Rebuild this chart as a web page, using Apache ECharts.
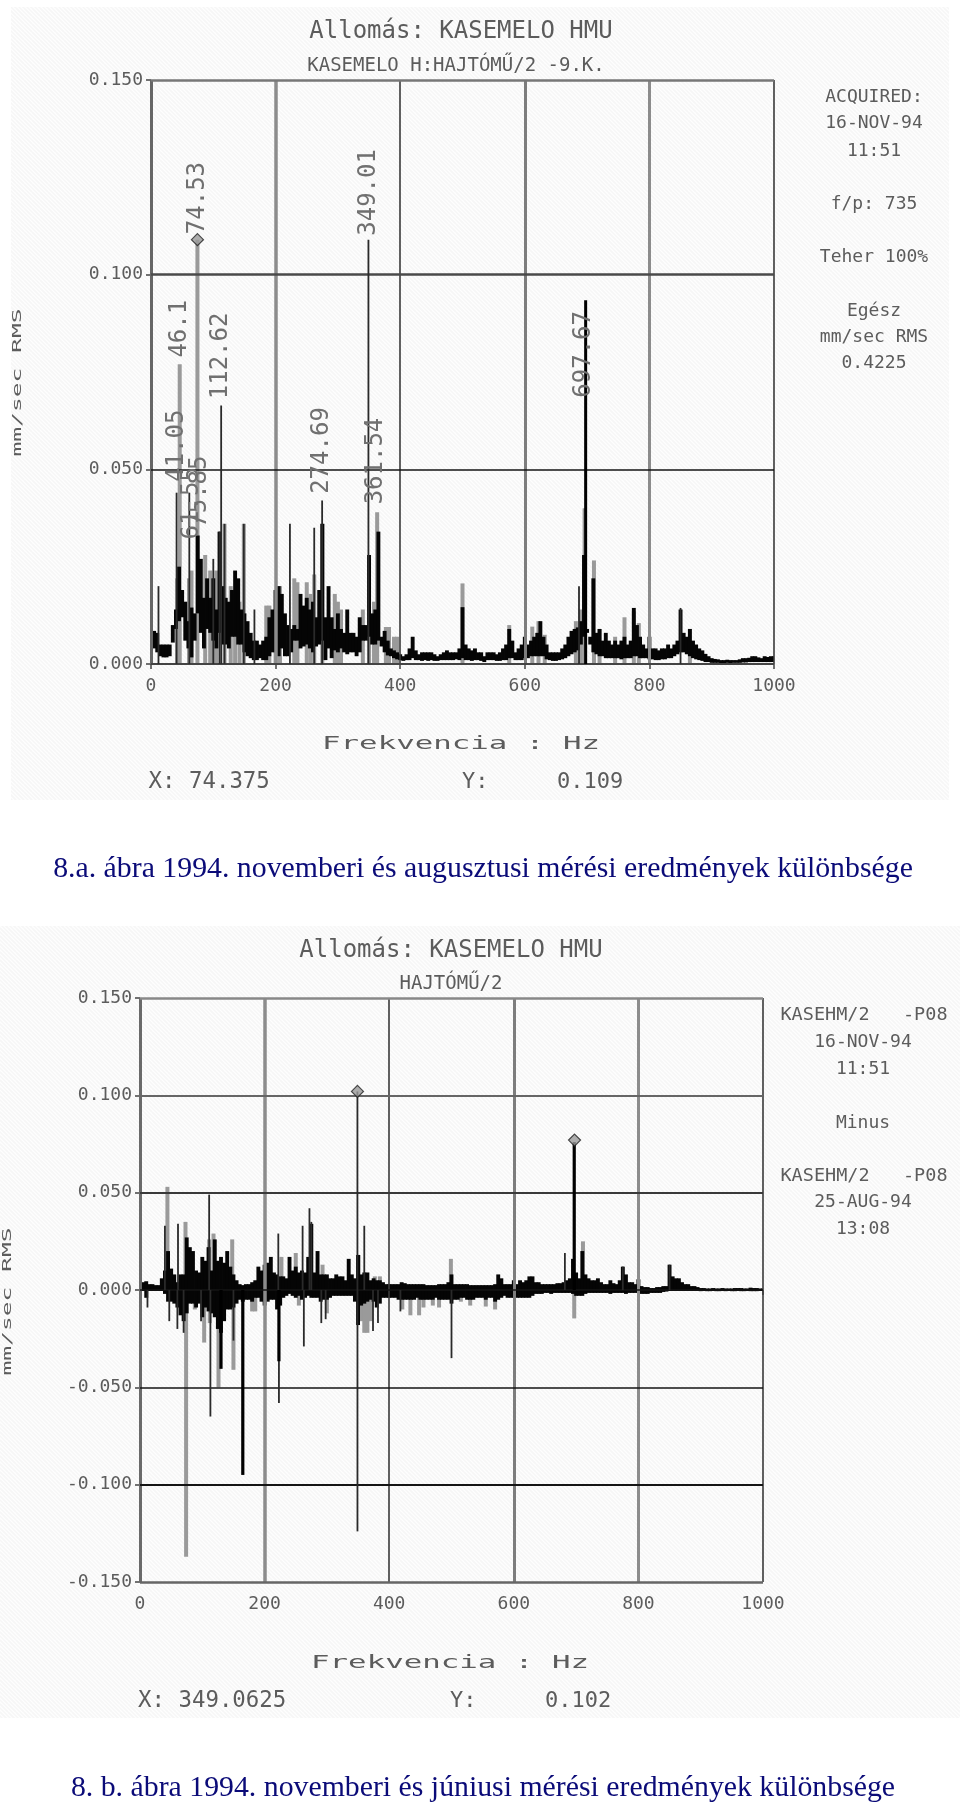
<!DOCTYPE html>
<html><head><meta charset="utf-8">
<style>html,body{margin:0;padding:0;background:#fff}#c{width:960px;height:1806px}</style>
<script src="https://cdn.jsdelivr.net/npm/echarts@6/dist/echarts.min.js"></script>
</head><body><div id="c"></div>
<script>
// Values in thousandths of mm/sec, read per 5 Hz bin (0..1000 Hz)
const aHigh=[6,8.5,8,5,5,5,5,10,14,25, 19,16,11,14.5,13,33,27,17,22,17, 22,14,34,20,17,16,19,24,22,14, 13,11,8,6,6,5,6,7,12,14,
19,20,18,13,10,9,10,9,18,15, 17,14,16,12,19,36,12,20,12,9, 13,9,8,14,8,8,7,12,10,10, 28,13,14,34,7,8.5,6,4,3.5,3,
2.5,2,2.5,4,7,3.5,2.5,3,3,3, 3,2.5,2,2.5,3,3.5,3,3,3,4, 14.6,5,4,3.5,4,3,3,2,3,3, 3,2.5,3,4,5,9,6,3,4,5,
7,5,6,7,8,11,7,5,3,3, 3,3,4,5,7,8.5,9,9.4,11,28, 9,7,22,8,9,6,8,6,5,6, 5,6,7,5,6,14.4,10,7,5,4,
7,4,4,3.5,4,4,5,4,5,6, 14,8,7,9,6,5,4,3.5,2.6,2, 1.5,1.3,1.2,1,1,1.1,1,1,1,1.2, 1.5,1.5,1.6,2,2,1.7,1.5,2,1.8,2, 2];
const aLow=[1,4,3,2,1.7,1.7,2,5.5,9,11, 12,6,4,1.7,6,13,8,4,9,8, 6,4,8,5,5,4,7,7,5,5, 3,2,1.5,1,1,1.5,1,1,2,3,
3,2,4,2,2,3,6,6,4,4.5, 5,4,3,4.5,5,6,1,4,1.5,3.5, 3,4,3,2.5,3,3,2,3,6,6, 7,5,5,6,4.5,3,2.2,2,1.5,1.2,
1,.8,1,1,1.5,1,1,.8,1,.8, 1,.8,.8,1,1,1,1,1,1.2,1, 1.5,1,1,.8,1,1,.8,.5,1,1, 1,.8,.8,1,1,1.5,1.5,1,1,1,
1.5,1.5,2,2,2,2,2,1.2,1,.8, .8,1,1.2,1.5,2,2.5,3,3.5,5,7, 8,5,3,2.5,2,2,1.5,1.5,1.5,1.5, 1.5,1.2,1.5,1.5,1.5,2,2,1.5,1.5,1.5,
1.2,1.2,1,1,1.2,1.2,1.5,1.5,2,2.5, 3,3,2.5,2,1.5,1.2,1,.8,.5,.5, .3,.3,.3,.2,.2,.3,.2,.3,.3,.3, .4,.4,.5,.5,.5,.5,.5,.5,.5,.5, .5];
const aGrayFreq=[46.1,74.53,42,61,65,87,95,100,105,118,128,135,142,149,185,190,200,207,230,235,250,256,262,275,295,300,305,340,350,358,363,377,382,390,395,500,575,612,622,632,682,690,696,711,720,745,760,775,783,865];
const aGrayVal=[77,109,22,22,24,28,24,22,24,36,20,18,16,36,15,15,19,20,22,21,21,18,23,36,18,16,14,14,28,16,39,9.5,9.5,7,7,20.7,10,9.6,11,7.5,11,14,40,26.6,9,7,12,13.5,10.5,9];
const aDarkFreq=[12,41.05,61.5,100,110,112.62,118,149,166,223,262,274.69,349.01,687,850];
const aDarkVal=[20,44,44,27,34,66.4,36,36,14,36,35,42,109,20,14.4];
const aThickFreq=[697.67];
const aThickVal=[93.4];
const aLabelText=["74.53","349.01","46.1","112.62","274.69","361.54","41.05","61.55","75.85","697.67"];
const aLabelFreq=[74.53,349.01,46.1,112.62,274.69,361.54,41.05,65,79,695];
const aLabelVal=[110.4,110,78.7,68,43.7,41,46.8,32,35,68.4];
const aMarkFreq=[74.53];
const aMarkVal=[109];

const bHigh=[3,4,4.5,3,3,2.5,2.5,6,10,20, 11,8,4,8,8,27,22,20,10,9, 17,15,22,10,26,15,17,14,20,12, 8,5,3,2.5,3,3,4,5,12,10,
13,14,17,9,8,7,7,6,17,10, 12,9,10,9,17,34,9,20,8,8, 8,6,6,8,7,7,5,16,8,6, 18,8,9,9,5,6,5,5,4,3,
3,3,3,3,4,3.5,3,3,3,3, 3,3,2.5,2.5,2.5,2.5,3,3,3,4, 8,3,3,3,3,3,2.5,2.5,2.5,2.5, 2.5,2.5,2.5,2.5,3,8,6,3,3,3,
5,3,5,4,5,7,7,4,4,3, 3,3,3,3,3.5,3.5,4,5,6,16, 9,6,20,8,6,5,5,6,4,3, 3,5,3.5,3,5,12,8,4,4,3,
5.5,2,1.5,1.5,1,1,1.5,1.5,2,2, 13,7,6,6,4,3,3,2,2,1.5, 1,1,.8,.8,1,.8,.8,1,.8,.8, .8,1,1,1,.8,.8,1.2,1,1,.8, .8];
const bLow=[0,-.5,-4,-.5,-.5,-.5,-.5,-.5,-2,-6, -6,-7,-9,-13,-16,-12,-7,-7,-9,-7, -14,-9,-11,-12,-14,-20,-22,-16,-10,-10, -9,-7,-5,-6,-5,-5,-6,-4,-4,-6,
-8,-6,-5,-5,-10,-8,-4,-3,-2,-3, -4,-3,-5,-4,-3,-4,-4,-4,-6,-5, -5,-4,-3,-3,-3,-3,-3,-3,-3,-6, -18,-8,-7,-6,-5,-6,-9,-7,-4,-4,
-4,-4,-4,-5,-5,-5,-5,-5,-5,-4, -5,-5,-5,-5,-5,-4,-5,-5,-5,-5, -7,-5,-5,-4,-4,-5,-5,-5,-4,-4, -4,-5,-4,-4,-6,-5,-4,-3,-4,-4,
-4,-4,-4,-4,-4,-4,-3,-2,-2,-2, -1.5,-1.5,-2,-1.5,-1.5,-1.5,-1.5,-1.5,-1.5,-2, -3,-3,-3,-2,-1.5,-1.5,-1.5,-1.5,-1.5,-1.5, -1.5,-2,-1.5,-1.5,-1.5,-1.5,-2,-1.5,-1.5,-1.5,
-1.5,-2,-2,-2,-1.5,-1.5,-1.5,-1.5,-1,-.8, -.5,-.5,-.5,-.5,-.5,-.5,-.5,-.5,-.5,-.5, -.6,-.5,-.6,-.6,-.5,-.6,-.6,-.5,-.6,-.5, -.6,-.6,-.5,-.6,-.6,-.5,-.6,-.6,-.6,-.5, -.5];
const bGrayFreq=[44,73,74,88,103,112,126,150,111,118,148,180,185,227,250,255,293,300,351,356,360,365,370,377,385,421,434,448,455,470,480,499,515,530,555,570,697,711];
const bGrayVal=[53,35,-137,-10,-27,-17,-50,-41,26,29,26,-11,-11,17,19,-8,13,-12,18,-16,-22,-22,-16,7,7,-10,-13,-13,-9,-8,-9,16,-6,-8,-8.5,-10,-14.6,25];
const bDarkFreq=[12,40,47,60,61,70,98,111,113,150,222,223,261,263,272,275,291,298,349,349.06,360,374,382,418,500,682,775,850];
const bDarkVal=[-9,33,-16,-20,34,-22,-16,49,-65,-26,29,-58,33,-29,42,35,-17,-15,102,-124,33,-21,-17,-11,-35,19,12,13];
const bThickFreq=[130,165,223,697];
const bThickVal=[-40.5,-95,-36.6,76];
const bMarkFreq=[349.06,697.5];
const bMarkVal=[102,77];

const mono='"DejaVu Sans Mono","Liberation Mono",monospace';
const ink='#5c5c5c';
const binHz=5;
const textDrop=1.5;

function bodyRows(lo,hi){return hi.map((v,i)=>[i*binHz,lo[i]/1000,v/1000]);}
function spikeRows(f,v){return f.map((x,i)=>[x,0,v[i]/1000]);}

function segments(gi,rows,color,w,z){
  return {type:'custom',xAxisIndex:gi,yAxisIndex:gi,z,silent:true,clip:true,data:rows,
    encode:{x:0,y:[1,2]},
    renderItem(p,api){
      const a=api.coord([api.value(0),api.value(1)]),b=api.coord([api.value(0),api.value(2)]);
      return {type:'rect',shape:{x:a[0]-w/2,y:Math.min(a[1],b[1]),width:w,height:Math.abs(a[1]-b[1])},style:{fill:color}};
    }};
}
function rules(gi,vx,hx){
  return {type:'line',xAxisIndex:gi,yAxisIndex:gi,data:[],silent:true,z:1,symbol:'none',
    markLine:{silent:true,symbol:'none',animation:false,label:{show:false},precision:6,
      data:vx.map(r=>({xAxis:r[0],lineStyle:{color:r[1],width:r[2],type:'solid'}}))
       .concat(hx.map(r=>({yAxis:r[0],lineStyle:{color:r[1],width:r[2],type:'solid'}})))}};
}
function marks(gi,f,v){
  return {type:'scatter',xAxisIndex:gi,yAxisIndex:gi,z:8,silent:true,symbol:'diamond',symbolSize:12,
    itemStyle:{color:'#9a9a9a',borderColor:'#222',borderWidth:1.2},data:f.map((x,i)=>[x,v[i]/1000])};
}
function peakLabels(gi,f,v,t){
  return {type:'custom',xAxisIndex:gi,yAxisIndex:gi,z:9,silent:true,clip:false,data:f.map((x,i)=>[x,v[i]/1000]),
    renderItem(p,api){
      const c=api.coord([api.value(0),api.value(1)]);
      return {type:'text',x:c[0],y:c[1],rotation:Math.PI/2,
        style:{text:t[p.dataIndex],align:'left',verticalAlign:'middle',fontFamily:mono,fontSize:24,fill:'#707070'}};
    }};
}
function tx(text,x,y,size,opt){
  opt=opt||{};
  return {type:'text',x,y:y+textDrop,z:20,silent:true,scaleX:opt.sx||1,rotation:opt.rot||0,
    style:{text,fontFamily:mono,fontSize:size,fill:opt.fill||ink,align:opt.align||'center',verticalAlign:'middle'}};
}
function hatch(){
  const c=document.createElement('canvas');c.width=c.height=8;
  const g=c.getContext('2d');g.fillStyle='#fefefe';g.fillRect(0,0,8,8);
  g.strokeStyle='#f6f6f6';g.lineWidth=1.4;
  [[-8,0,8,16],[-4,0,12,16],[0,0,16,16],[-4,-8,12,8],[-8,-8,8,8],[0,-8,16,8]].forEach(l=>{g.beginPath();g.moveTo(l[0],l[1]);g.lineTo(l[2],l[3]);g.stroke();});
  return c;
}
const pat={image:hatch(),repeat:'repeat'};

function xAxis(gi){return {type:'value',gridIndex:gi,min:0,max:1000,interval:200,splitLine:{show:false},
  axisLine:{show:false},axisTick:{show:true,length:5,lineStyle:{color:'#444',width:1.5}},
  axisLabel:{fontFamily:mono,fontSize:18,color:ink,margin:13,formatter:v=>String(v),showMinLabel:true,showMaxLabel:true}};}
function yAxis(gi,min){return {type:'value',gridIndex:gi,min,max:.15,interval:.05,splitLine:{show:false},
  axisLine:{show:false},axisTick:{show:true,length:5,lineStyle:{color:'#444',width:1.5}},
  axisLabel:{fontFamily:mono,fontSize:18,color:ink,margin:8,padding:[4,0,0,0],formatter:v=>v.toFixed(3),showMinLabel:true,showMaxLabel:true}};}

const caption={fontFamily:'"Liberation Serif","Times New Roman",serif',fontSize:29.8,fill:'#0b0b78',align:'center',verticalAlign:'middle'};

const chart=echarts.init(document.getElementById('c'),null,{renderer:'canvas'});
chart.setOption({
  animation:false,backgroundColor:'#ffffff',
  grid:[{left:151,top:80,width:623,height:584,containLabel:false},{left:140,top:998,width:623,height:584}],
  xAxis:[xAxis(0),xAxis(1)],
  yAxis:[yAxis(0,0),yAxis(1,-.15)],
  series:[
    rules(0,[[0,'#666',3],[200,'#8c8c8c',3.5],[400,'#3a3a3a',1.6],[600,'#7d7d7d',3],[800,'#8c8c8c',3],[1000,'#3a3a3a',1.6]],
            [[.15,'#777',2.5],[.1,'#4a4a4a',2.5],[.05,'#151515',1.6],[0,'#444',2]]),
    segments(0,spikeRows(aGrayFreq,aGrayVal),'#9a9a9a',4,3),
    segments(0,bodyRows(aLow,aHigh),'#050505',3.9,4),
    segments(0,spikeRows(aDarkFreq,aDarkVal),'#2a2a2a',1.8,5),
    segments(0,spikeRows(aThickFreq,aThickVal),'#000',3,6),
    marks(0,aMarkFreq,aMarkVal),
    peakLabels(0,aLabelFreq,aLabelVal,aLabelText),

    rules(1,[[0,'#6a6a6a',3],[200,'#8c8c8c',3.5],[400,'#3a3a3a',1.6],[600,'#7d7d7d',3],[800,'#8c8c8c',3],[1000,'#3a3a3a',1.6]],
            [[.15,'#888',2.5],[.1,'#666',2.2],[.05,'#3a3a3a',1.8],[0,'#151515',1.6],[-.05,'#151515',1.6],[-.1,'#151515',1.8],[-.15,'#666',2.5]]),
    segments(1,spikeRows(bGrayFreq,bGrayVal),'#9a9a9a',4,3),
    segments(1,bodyRows(bLow,bHigh),'#050505',3.9,4),
    segments(1,spikeRows(bDarkFreq,bDarkVal),'#2a2a2a',1.8,5),
    segments(1,spikeRows(bThickFreq,bThickVal),'#000',3.2,6),
    marks(1,bMarkFreq,bMarkVal)
  ],
  graphic:[
    {type:'rect',z:-10,silent:true,shape:{x:11,y:7,width:938,height:793},style:{fill:pat}},
    {type:'rect',z:-10,silent:true,shape:{x:0,y:926,width:960,height:792},style:{fill:pat}},

    tx('Allomás: KASEMELO HMU',461,30,24),
    tx('KASEMELO H:HAJTÓMŰ/2 -9.K.',456,65,19),
    tx('ACQUIRED:',874,96,18),tx('16-NOV-94',874,122,18),tx('11:51',874,150,18),
    tx('f/p: 735',874,203,18),tx('Teher 100%',874,256,18),
    tx('Egész',874,310,18),tx('mm/sec RMS',874,336,18),tx('0.4225',874,362,18),
    tx('mm/sec RMS',18,381,12,{rot:Math.PI/2,sx:2.05}),
    tx('Frekvencia : Hz',461,743,17,{sx:1.81}),
    tx('X: 74.375',148.5,781,22.4,{align:'left'}),tx('Y:',462,781,22,{align:'left'}),tx('0.109',557,781,22,{align:'left'}),
    {type:'text',x:483,y:869,z:20,silent:true,style:Object.assign({text:'8.a. ábra 1994. novemberi és augusztusi mérési eredmények különbsége'},caption)},

    tx('Allomás: KASEMELO HMU',451,949,24),
    tx('HAJTÓMŰ/2',451,982.5,19),
    tx('KASEHM/2   -P08',864,1014,18.5),tx('16-NOV-94',863,1041,18),tx('11:51',863,1068,18),
    tx('Minus',863,1122,18),
    tx('KASEHM/2   -P08',864,1174.5,18.5),tx('25-AUG-94',863,1201,18),tx('13:08',863,1228,18),
    tx('mm/sec RMS',8,1300,12,{rot:Math.PI/2,sx:2.05}),
    tx('Frekvencia : Hz',450,1662,17,{sx:1.81}),
    tx('X: 349.0625',138,1700,22.4,{align:'left'}),tx('Y:',450,1700,22,{align:'left'}),tx('0.102',545,1700,22,{align:'left'}),
    {type:'text',x:483,y:1788,z:20,silent:true,style:Object.assign({text:'8. b. ábra 1994. novemberi és júniusi mérési eredmények különbsége'},caption)}
  ]
});
</script></body></html>
